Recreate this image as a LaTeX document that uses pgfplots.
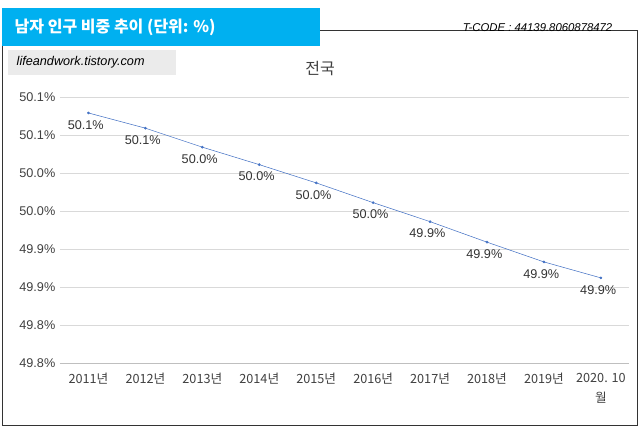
\documentclass[border=0pt]{standalone}
\usepackage{pgfplots}
\pgfplotsset{compat=1.18}
\usepackage{fontspec}
\setmainfont{Liberation Sans}
\newfontfamily\kr{Noto Sans CJK KR}
\begin{document}
\begin{tikzpicture}
\begin{scope}[x=0.75pt,y=-0.75pt,yshift=324.75pt]
\path[use as bounding box] (0,0) rectangle (643,433);
\draw[black!80] (2,30) rectangle (637,425);
\fill[fill={rgb,255:red,0;green,176;blue,240}] (2,8) rectangle (320,46);
\node[anchor=west,text=white,font=\kr\bfseries\fontsize{12}{14}\selectfont] at (10,27) {남자 인구 비중 추이 (단위: \%)};
\node[anchor=east,font=\itshape\fontsize{8.5}{10}\selectfont] at (617,28) {T-CODE : 44139.8060878472};
\fill[black!8] (8,50) rectangle (176,75);
\node[anchor=west,font=\itshape\fontsize{9.5}{11}\selectfont] at (12,62) {lifeandwork.tistory.com};
\node[font=\kr\fontsize{12}{14}\selectfont,text=black!75] at (320,69) {전국};
\end{scope}
\begin{axis}[at={(45pt,52.5pt)},anchor=south west,scale only axis,
 width=427pt,height=199.5pt,
 xmin=-0.5,xmax=9.5,ymin=49.75,ymax=50.10,
 ytick={49.75,49.80,...,50.11},
 /pgf/number format/assume math mode=true,
 yticklabel={\pgfmathprintnumber[fixed,fixed zerofill,precision=1]{\tick}\%},
 xtick={0,...,9},
 xticklabels={2011년,2012년,2013년,2014년,2015년,2016년,2017년,2018년,2019년,{2020. 10\\월}},
 xticklabel style={align=center,font=\kr\fontsize{9.5}{15}\selectfont,text=black!75,yshift=-4pt},
 yticklabel style={font=\fontsize{9.5}{11}\selectfont,text=black!75},
 axis line style={draw=none},
 major tick length=0pt,
 ymajorgrids, grid style={black!15},
 clip=false,
 nodes near coords,point meta=explicit symbolic,
 every node near coord/.style={below,font=\fontsize{9.5}{11}\selectfont,text=black!80,yshift=-2pt,xshift=-2pt},
]
\draw[black!25] (axis cs:-0.5,49.75) -- (axis cs:9.5,49.75);
\addplot[color={rgb,255:red,68;green,114;blue,196},mark=*,mark size=0.8pt] table[meta=l] {
x y l
0 50.079 50.1\%
1 50.059 50.1\%
2 50.034 50.0\%
3 50.011 50.0\%
4 49.987 50.0\%
5 49.961 50.0\%
6 49.936 49.9\%
7 49.909 49.9\%
8 49.883 49.9\%
9 49.862 49.9\%
};
\end{axis}
\end{tikzpicture}
\end{document}
